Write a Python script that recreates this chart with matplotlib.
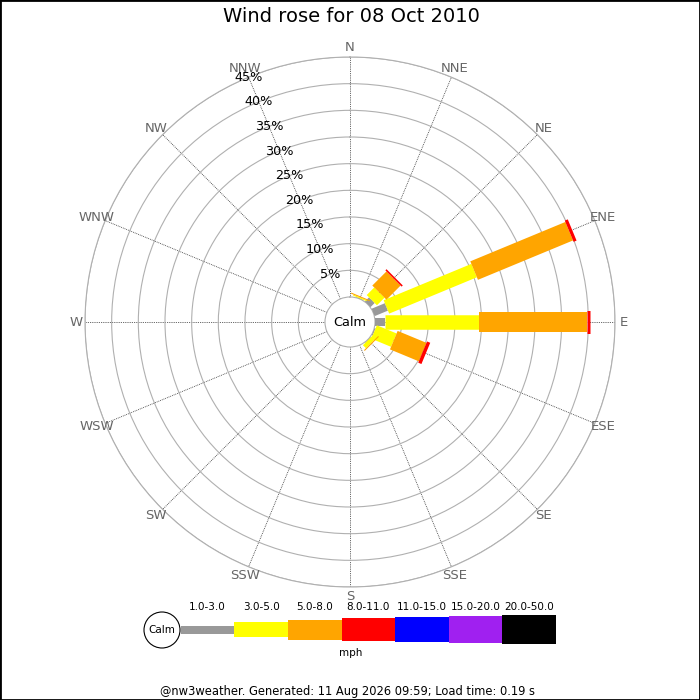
import matplotlib.pyplot as plt
import matplotlib.patches as mpatches
import numpy as np

# compass directions, clockwise from north
directions = ['N', 'NNE', 'NE', 'ENE', 'E', 'ESE', 'SE', 'SSE',
              'S', 'SSW', 'SW', 'WSW', 'W', 'WNW', 'NW', 'NNW']

# speed classes (mph)
speed_bins = ['1.0-3.0', '3.0-5.0', '5.0-8.0', '8.0-11.0',
              '11.0-15.0', '15.0-20.0', '20.0-50.0']

# percentage of time per direction for each speed class
pct_1_3 = [0, 0.1, 1.1, 2.7, 1.9, 0.2, 0.1, 0, 0, 0, 0, 0, 0, 0, 0, 0]
pct_3_5 = [0, 0.2, 2.0, 17.8, 17.6, 4.0, 0.8, 0, 0, 0, 0, 0, 0, 0, 0, 0]
pct_5_8 = [0, 0.2, 3.75, 19.3, 20.25, 5.85, 0.2, 0, 0, 0, 0, 0, 0, 0, 0, 0]
pct_8_11 = [0, 0, 0.3, 0.6, 0.55, 0.65, 0, 0, 0, 0, 0, 0, 0, 0, 0, 0]
pct_11_15 = [0] * 16
pct_15_20 = [0] * 16
pct_20_50 = [0] * 16

radial_ticks = [5, 10, 15, 20, 25, 30, 35, 40, 45]

# styling
colors = ['#999999', '#ffff00', '#ffa500', '#ff0000', '#0000ff', '#a020f0', '#000000']
widths_px = [8, 14.5, 20, 23, 25, 27, 29]  # bar thickness in pixels

series = [pct_1_3, pct_3_5, pct_5_8, pct_8_11, pct_11_15, pct_15_20, pct_20_50]

fig = plt.figure(figsize=(7, 7), dpi=100)

# overlay axes in pixel coordinates for title, legend and footer
ov = fig.add_axes([0, 0, 1, 1])
ov.set_xlim(0, 700)
ov.set_ylim(700, 0)
ov.axis('off')

# polar rose
ax = fig.add_axes([85 / 700, 113 / 700, 530 / 700, 530 / 700], projection='polar')
ax.set_facecolor('none')
ax.set_theta_zero_location('N')
ax.set_theta_direction(-1)
ax.set_rorigin(-4.69)
ax.set_ylim(0, 45)

theta = np.radians(np.arange(16) * 22.5)
ax.set_xticks(theta)
ax.set_xticklabels([])
ax.set_yticks(radial_ticks)
ax.set_yticklabels([])
ax.tick_params(length=0)
ax.xaxis.grid(True, color='#333333', linestyle=(0, (1, 1.2)), linewidth=0.6)
ax.yaxis.grid(True, color='#b0b0b0', linestyle='-', linewidth=0.8)
for name, sp in ax.spines.items():
    if name in ('polar', 'inner'):
        sp.set_color('#b0b0b0')
        sp.set_linewidth(0.8)
    else:
        sp.set_visible(False)

# stacked bars with constant pixel width
base = np.zeros(16)
for vals, col, wpx in zip(series, colors, widths_px):
    vals = np.array(vals, dtype=float)
    for i in range(16):
        if vals[i] > 0:
            ax.plot([theta[i], theta[i]], [base[i], base[i] + vals[i]],
                    color=col, lw=wpx * 0.72, solid_capstyle='butt', zorder=3)
    base += vals

# direction labels
for t, d in zip(theta, directions):
    ax.text(t, 46.7, d, ha='center', va='center', fontsize=9.5, color='#666666')

# radial labels along NNW
for v in radial_ticks:
    ax.text(np.radians(337.5), v, f'{v}%', ha='center', va='center',
            fontsize=9.2, color='black', zorder=4)

ax.text(0, -4.69, 'Calm', ha='center', va='center', fontsize=9.3, zorder=5)

# title
ov.text(351, 17, 'Wind rose for 08 Oct 2010', ha='center', va='center', fontsize=14)

# legend
ov.add_patch(mpatches.Circle((162, 630), 18, facecolor='white', edgecolor='black', lw=0.8))
ov.text(162, 630, 'Calm', ha='center', va='center', fontsize=7.5)
x0, step = 180.7, 53.6
for i, (lab, col, wpx) in enumerate(zip(speed_bins, colors, widths_px)):
    xs = x0 + i * step
    ov.add_patch(mpatches.Rectangle((xs, 629.5 - wpx / 2), step, wpx,
                                    facecolor=col, edgecolor='none'))
    ov.text(xs + step / 2, 607, lab, ha='center', va='center', fontsize=7.5)
ov.text(351, 653, 'mph', ha='center', va='center', fontsize=7.5)

# footer
ov.text(348, 692, '@nw3weather. Generated: 11 Aug 2026 09:59; Load time: 0.19 s',
        ha='center', va='center', fontsize=8.3)

# border
ov.add_patch(mpatches.Rectangle((0, 0), 700, 700, fill=False, edgecolor='black', lw=2))

fig.savefig('out.png', dpi=100)
